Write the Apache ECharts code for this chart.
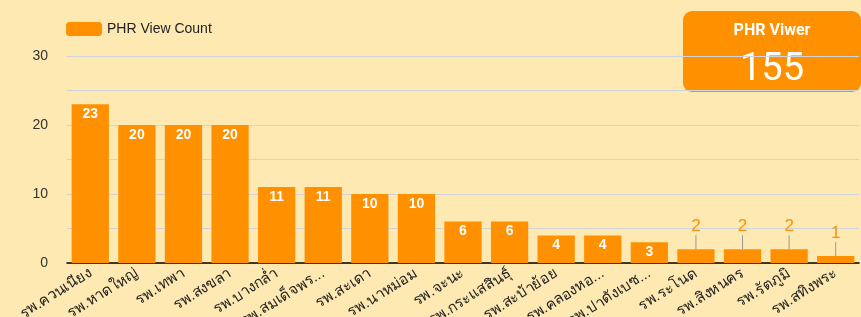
<!DOCTYPE html>
<html>
<head>
<meta charset="utf-8">
<script src="https://cdn.jsdelivr.net/npm/echarts@6/dist/echarts.min.js"></script>
<style>
  html, body { margin: 0; padding: 0; background: #fee9b2; }
  #chart { width: 861px; height: 317px; }
</style>
</head>
<body>
<div id="chart"></div>
<script>
// hospitals and PHR view counts
const hospitals = ['รพ.ควนเนียง', 'รพ.หาดใหญ่', 'รพ.เทพา', 'รพ.สงขลา', 'รพ.บางกล่ำ', 'รพ.สมเด็จพร...',
    'รพ.สะเดา', 'รพ.นาหม่อม', 'รพ.จะนะ', 'รพ.กระแสสินธุ์', 'รพ.สะบ้าย้อย', 'รพ.คลองหอ...',
    'รพ.ปาดังเบซ...', 'รพ.ระโนด', 'รพ.สิงหนคร', 'รพ.รัตภูมิ', 'รพ.สทิงพระ'];
const viewCounts = [23, 20, 20, 20, 11, 11, 10, 10, 6, 6, 4, 4, 3, 2, 2, 2, 1];
const totalViewers = 155;

document.addEventListener('DOMContentLoaded', function() {
    const chart = echarts.init(document.getElementById('chart'));
    const orange = '#ff9000';

    const barData = viewCounts.map(v => {
        if (v >= 3) return { value: v };
        // small bars: label sits above the bar
        return {
            value: v,
            label: { position: 'top', color: orange, fontWeight: 'normal', fontSize: 17, distance: 2 }
        };
    });

    chart.setOption({
        backgroundColor: '#fee9b2',
        animation: false,
        textStyle: { fontFamily: 'Arial, "Liberation Sans", sans-serif' },
        legend: {
            left: 61, top: 17,
            itemWidth: 36, itemHeight: 14,
            textStyle: { color: '#222', fontSize: 14 },
            data: ['PHR View Count']
        },
        grid: { left: 67, right: 2, top: 56, bottom: 54, containLabel: false, outerBoundsMode: 'none' },
        xAxis: {
            type: 'category',
            data: hospitals,
            axisLine: { lineStyle: { color: '#000', width: 1.5 } },
            axisTick: { show: false },
            axisLabel: { rotate: 32, color: '#222', fontSize: 15, margin: 9, interval: 0 }
        },
        yAxis: {
            type: 'value',
            min: 0, max: 30, interval: 5,
            axisLine: { show: false },
            axisTick: { show: false },
            axisLabel: {
                color: '#333', fontSize: 14, margin: 19,
                formatter: v => (v % 10 === 0 ? v : '')
            },
            splitLine: { lineStyle: { color: '#cfd3dc', width: 1 } }
        },
        series: [{
            name: 'PHR View Count',
            type: 'bar',
            data: barData,
            barWidth: '80%',
            itemStyle: { color: orange },
            label: {
                show: true, position: 'insideTop', distance: 3,
                color: '#fff', fontWeight: 'bold', fontSize: 14
            },
            labelLayout: params => (viewCounts[params.dataIndex] < 3 ? { dy: -12 } : {}),
            labelLine: { show: true, lineStyle: { color: '#999', width: 1 } }
        }],
        graphic: [{
            type: 'group', right: 0, top: 11,
            children: [
                { type: 'rect', shape: { x: 0, y: 0, width: 178, height: 81, r: 9 }, style: { fill: orange } },
                { type: 'text', x: 89, y: 12, style: { text: 'PHR Viwer', fill: '#fff', fontSize: 16, fontWeight: 'bold', align: 'center', fontFamily: 'Roboto, Arial, sans-serif' } },
                { type: 'text', x: 89, y: 40, style: { text: String(totalViewers), fill: '#fff', fontSize: 38, align: 'center', fontFamily: 'Roboto, Arial, sans-serif' } }
            ]
        }]
    });
});
</script>
</body>
</html>
